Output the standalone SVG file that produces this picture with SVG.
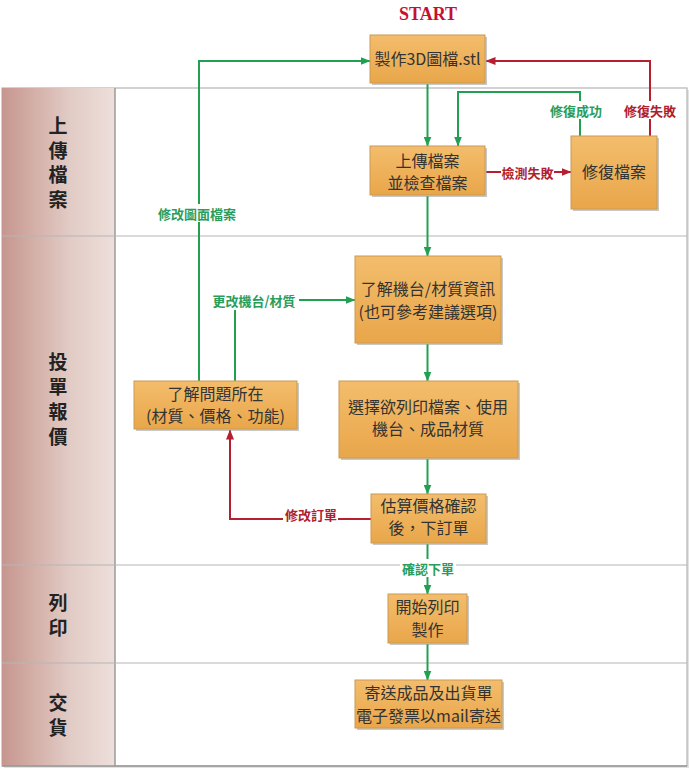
<svg xmlns="http://www.w3.org/2000/svg" width="689" height="769" viewBox="0 0 689 769">
<defs>
<linearGradient id="hdr" x1="0" y1="0" x2="1" y2="0">
<stop offset="0" stop-color="#c6968e"/>
<stop offset="0.6" stop-color="#e2cbc5"/>
<stop offset="1" stop-color="#eddfda"/>
</linearGradient>
<linearGradient id="box" x1="0" y1="0" x2="0" y2="1">
<stop offset="0" stop-color="#f3bd6c"/>
<stop offset="1" stop-color="#e9a64a"/>
</linearGradient>
<marker id="ag" viewBox="0 0 10 8" refX="9.5" refY="4" markerWidth="10" markerHeight="8" markerUnits="userSpaceOnUse" orient="auto">
<path d="M0,0 L10,4 L0,8 z" fill="#22a052"/>
</marker>
<marker id="ar" viewBox="0 0 10 8" refX="9.5" refY="4" markerWidth="10" markerHeight="8" markerUnits="userSpaceOnUse" orient="auto">
<path d="M0,0 L10,4 L0,8 z" fill="#b51f30"/>
</marker>
</defs>
<style>
.lane{fill:none;stroke:#b5b5b5;stroke-width:1.2}
.hd{font-family:"Noto Sans CJK TC","Noto Sans CJK SC",sans-serif;font-size:19px;font-weight:bold;fill:#222;text-anchor:middle}
.bx{fill:url(#box);stroke:#c99a52;stroke-width:1}
.sh{fill:#9a9a9a;opacity:0.55}
.bt{font-family:"Noto Sans CJK TC","Noto Sans CJK SC",sans-serif;font-size:16px;fill:#333;text-anchor:middle}
.g{fill:none;stroke:#22a052;stroke-width:2}
.r{fill:none;stroke:#b51f30;stroke-width:2}
.lg{font-family:"Noto Sans CJK TC","Noto Sans CJK SC",sans-serif;font-size:13px;font-weight:bold;fill:#2a9d5c;text-anchor:middle;dominant-baseline:central}
.lr{font-family:"Noto Sans CJK TC","Noto Sans CJK SC",sans-serif;font-size:13px;font-weight:bold;fill:#b01e30;text-anchor:middle;dominant-baseline:central}
.lb{fill:#fff}
</style>
<rect width="689" height="769" fill="#fff"/>
<g id="lanes">
<rect x="4" y="90" width="685" height="678" fill="#c8c8c8" opacity="0.5"/>
<rect x="2" y="88" width="685" height="678" fill="#fff" stroke="#b5b5b5" stroke-width="1.2"/>
<rect x="2" y="88" width="113" height="678" fill="url(#hdr)"/>
<line x1="115" y1="88" x2="115" y2="766" stroke="#9a9a9a" stroke-width="1.5"/>
<line x1="2" y1="236" x2="687" y2="236" class="lane"/>
<line x1="2" y1="565" x2="687" y2="565" class="lane"/>
<line x1="2" y1="663" x2="687" y2="663" class="lane"/>
<line x1="2" y1="766" x2="687" y2="766" stroke="#999" stroke-width="1.5"/>
<text class="hd" x="58" y="133"><tspan x="58">上</tspan><tspan x="58" dy="24.5">傳</tspan><tspan x="58" dy="24.5">檔</tspan><tspan x="58" dy="24.5">案</tspan></text>
<text class="hd" x="58" y="369"><tspan x="58">投</tspan><tspan x="58" dy="25">單</tspan><tspan x="58" dy="25">報</tspan><tspan x="58" dy="25">價</tspan></text>
<text class="hd" x="58" y="609.5"><tspan x="58">列</tspan><tspan x="58" dy="25">印</tspan></text>
<text class="hd" x="58" y="709.5"><tspan x="58">交</tspan><tspan x="58" dy="25">貨</tspan></text>
</g>
<text x="428" y="20" font-family="Liberation Serif, serif" font-size="18" font-weight="bold" fill="#c8102e" text-anchor="middle">START</text>
<g id="connectors">
<line class="g" x1="427.5" y1="84" x2="427.5" y2="146" marker-end="url(#ag)"/>
<line class="r" x1="486" y1="172" x2="571" y2="172" marker-end="url(#ar)"/>
<polyline class="g" points="580,136 580,92 458,92 458,146" marker-end="url(#ag)"/>
<polyline class="r" points="650,136 650,61 486,61" marker-end="url(#ar)"/>
<line class="g" x1="427.5" y1="196" x2="427.5" y2="256" marker-end="url(#ag)"/>
<line class="g" x1="427.5" y1="344" x2="427.5" y2="381" marker-end="url(#ag)"/>
<line class="g" x1="427.5" y1="459" x2="427.5" y2="494" marker-end="url(#ag)"/>
<polyline class="r" points="371,519 230,519 230,430" marker-end="url(#ar)"/>
<polyline class="g" points="199,381 199,61 370,61" marker-end="url(#ag)"/>
<polyline class="g" points="235,381 235,300 355,300" marker-end="url(#ag)"/>
<line class="g" x1="427.5" y1="544" x2="427.5" y2="594" marker-end="url(#ag)"/>
<line class="g" x1="427.5" y1="644" x2="427.5" y2="680" marker-end="url(#ag)"/>
<rect class="lb" x="501" y="163" width="53" height="18"/>
<text class="lr" x="527.5" y="172">檢測失敗</text>
<rect class="lb" x="554" y="101" width="44" height="18"/>
<text class="lg" x="576" y="110">修復成功</text>
<rect class="lb" x="623" y="101" width="55" height="18"/>
<text class="lr" x="650" y="110">修復失敗</text>
<rect class="lb" x="155" y="204" width="84" height="18"/>
<text class="lg" x="197" y="213">修改圖面檔案</text>
<rect class="lb" x="210" y="291" width="89" height="19"/>
<text class="lg" x="254" y="300">更改機台/材質</text>
<rect class="lb" x="283" y="507" width="55" height="18"/>
<text class="lr" x="311" y="514">修改訂單</text>
<rect class="lb" x="400" y="559" width="56" height="18"/>
<text class="lg" x="428" y="568">確認下單</text>
</g>
<g id="n1">
<rect class="sh" x="372" y="37" width="115" height="48"/>
<rect class="bx" x="370" y="35" width="115" height="48"/>
<text class="bt" x="427.5" y="64.5">製作3D圖檔.stl</text>
</g>
<g id="n2">
<rect class="sh" x="372" y="148" width="115" height="49"/>
<rect class="bx" x="370" y="146" width="115" height="49"/>
<text class="bt" x="427.5" y="166.5"><tspan x="427.5">上傳檔案</tspan><tspan x="427.5" dy="22">並檢查檔案</tspan></text>
</g>
<g id="n3">
<rect class="sh" x="573" y="138" width="86" height="73"/>
<rect class="bx" x="571" y="136" width="86" height="73"/>
<text class="bt" x="614" y="177.5">修復檔案</text>
</g>
<g id="n4">
<rect class="sh" x="357" y="258" width="146" height="87"/>
<rect class="bx" x="355" y="256" width="146" height="87"/>
<text class="bt" x="428" y="294.5"><tspan x="428">了解機台/材質資訊</tspan><tspan x="428" dy="23">(也可參考建議選項)</tspan></text>
</g>
<g id="n5">
<rect class="sh" x="341" y="383" width="179" height="77"/>
<rect class="bx" x="339" y="381" width="179" height="77"/>
<text class="bt" x="428" y="412.5"><tspan x="428">選擇欲列印檔案、使用</tspan><tspan x="428" dy="22">機台、成品材質</tspan></text>
</g>
<g id="n6">
<rect class="sh" x="136" y="383" width="163" height="48"/>
<rect class="bx" x="134" y="381" width="163" height="48"/>
<text class="bt" x="215.5" y="399.5"><tspan x="215.5">了解問題所在</tspan><tspan x="215.5" dy="22">(材質、價格、功能)</tspan></text>
</g>
<g id="n7">
<rect class="sh" x="373" y="496" width="115" height="49"/>
<rect class="bx" x="371" y="494" width="115" height="49"/>
<text class="bt" x="428.5" y="512"><tspan x="428.5">估算價格確認</tspan><tspan x="428.5" dy="22">後，下訂單</tspan></text>
</g>
<g id="n8">
<rect class="sh" x="390" y="596" width="79" height="49"/>
<rect class="bx" x="388" y="594" width="79" height="49"/>
<text class="bt" x="427.5" y="612.5"><tspan x="427.5">開始列印</tspan><tspan x="427.5" dy="23">製作</tspan></text>
</g>
<g id="n9">
<rect class="sh" x="357" y="682" width="147" height="48"/>
<rect class="bx" x="355" y="680" width="147" height="48"/>
<text class="bt" x="428.5" y="698.5"><tspan x="428.5">寄送成品及出貨單</tspan><tspan x="428.5" dy="23">電子發票以mail寄送</tspan></text>
</g>
</svg>
